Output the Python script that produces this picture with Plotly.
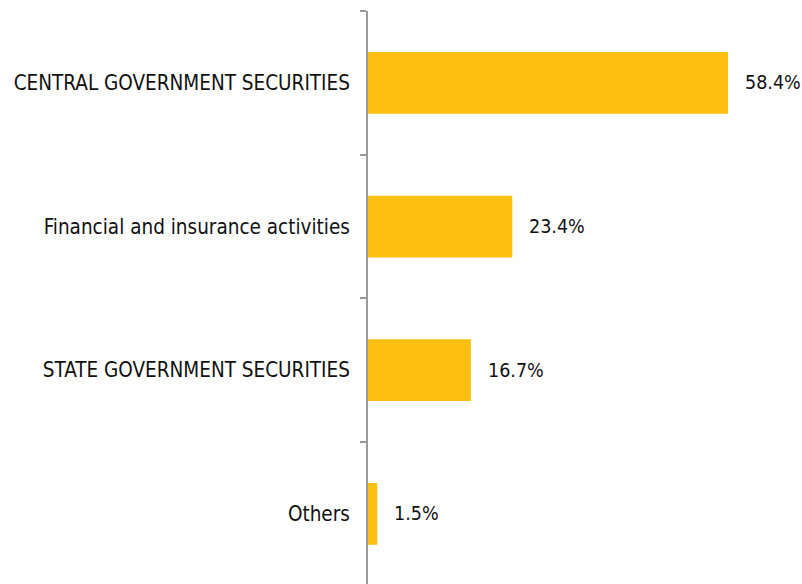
import plotly.graph_objects as go

# Portfolio composition by sector (share of total, %)
categories = [
    "CENTRAL GOVERNMENT SECURITIES",
    "Financial and insurance activities",
    "STATE GOVERNMENT SECURITIES",
    "Others",
]
shares = [58.4, 23.4, 16.7, 1.5]
share_labels = ["58.4%", "23.4%", "16.7%", "1.5%"]

BAR_COLOR = "#FDC012"
AXIS_COLOR = "#9a9a9a"
FONT = "DejaVu Sans Condensed, DejaVu Sans"
TEXT_COLOR = "#111111"

fig = go.Figure(
    go.Bar(
        x=shares,
        y=categories,
        orientation="h",
        marker=dict(color=BAR_COLOR, line=dict(width=0)),
        width=0.43,
        hoverinfo="skip",
    )
)

# Value labels just past the end of each bar
for cat, val, lab in zip(categories, shares, share_labels):
    fig.add_annotation(
        x=val, y=cat, text=lab, showarrow=False,
        xanchor="left", yanchor="middle", xshift=15,
        font=dict(family=FONT, size=19.5, color=TEXT_COLOR),
    )

fig.update_layout(
    width=802,
    height=584,
    margin=dict(l=368, r=0, t=11, b=0),
    paper_bgcolor="white",
    plot_bgcolor="white",
    showlegend=False,
    font=dict(family=FONT, size=20.5, color=TEXT_COLOR),
)

fig.update_xaxes(
    range=[0, 70.4], visible=False, showgrid=False, zeroline=False,
)
fig.update_yaxes(
    type="category",
    range=[3.488, -0.5],
    tickson="boundaries",
    ticks="outside",
    ticklen=6,
    tickwidth=2,
    tickcolor=AXIS_COLOR,
    showline=True,
    linecolor=AXIS_COLOR,
    linewidth=2,
    showgrid=False,
    zeroline=False,
    ticklabelstandoff=12,
    tickfont=dict(family=FONT, size=20.5, color=TEXT_COLOR),
)

fig.write_html("out.html")
